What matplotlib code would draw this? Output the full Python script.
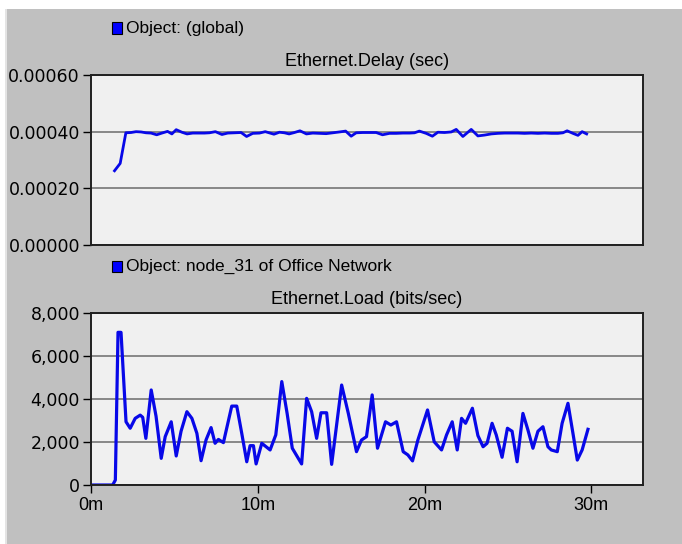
import matplotlib
matplotlib.use('Agg')
import matplotlib.pyplot as plt
from matplotlib.patches import Rectangle

# ---------------- data ----------------
delay_time = [1.41, 1.75, 2.09, 2.4, 2.7, 3.0, 3.3, 3.6, 3.94, 4.25, 4.59, 4.85, 5.11,
              5.45, 5.76, 6.1, 6.4, 6.8, 7.1, 7.46, 7.85, 8.2, 8.6, 9.0, 9.33, 9.7,
              10.1, 10.45, 10.97, 11.3, 11.6, 11.88, 12.2, 12.53, 12.92, 13.3, 13.7,
              14.1, 14.5, 14.9, 15.27, 15.6, 15.9, 16.3, 16.7, 17.1, 17.48, 17.9, 18.3,
              18.7, 19.1, 19.4, 19.69, 20.1, 20.47, 20.8, 21.2, 21.6, 21.9, 22.3, 22.8,
              23.2, 23.6, 24.0, 24.4, 24.8, 25.2, 25.6, 26.0, 26.4, 26.8, 27.2, 27.6,
              28.0, 28.3, 28.55, 28.9, 29.2, 29.45, 29.72]
delay_value = [0.000262, 0.000288, 0.000396, 0.000397, 0.000400, 0.000399, 0.000396,
               0.000395, 0.000389, 0.000395, 0.000401, 0.000392, 0.000407, 0.000398,
               0.000392, 0.000395, 0.000395, 0.000395, 0.000396, 0.000400, 0.000390,
               0.000395, 0.000396, 0.000397, 0.000383, 0.000394, 0.000395, 0.000400,
               0.000391, 0.000398, 0.000396, 0.000392, 0.000397, 0.000403, 0.000392,
               0.000395, 0.000394, 0.000393, 0.000396, 0.000399, 0.000402, 0.000384,
               0.000396, 0.000397, 0.000397, 0.000397, 0.000389, 0.000394, 0.000394,
               0.000395, 0.000395, 0.000396, 0.000402, 0.000394, 0.000384, 0.000398,
               0.000397, 0.000399, 0.000408, 0.000383, 0.000408, 0.000385, 0.000388,
               0.000392, 0.000394, 0.000395, 0.000395, 0.000395, 0.000394, 0.000395,
               0.000394, 0.000395, 0.000394, 0.000394, 0.000396, 0.000403, 0.000394,
               0.000387, 0.000400, 0.000392]

load_time = [0.0, 0.5, 1.0, 1.3, 1.46, 1.62, 1.8, 2.1, 2.35, 2.65, 2.95, 3.1, 3.29,
             3.61, 3.9, 4.21, 4.45, 4.81, 5.11, 5.4, 5.75, 6.05, 6.35, 6.6, 6.9, 7.2,
             7.44, 7.64, 7.94, 8.44, 8.74, 9.04, 9.34, 9.54, 9.74, 9.9, 10.24, 10.74,
             11.08, 11.44, 11.76, 12.07, 12.63, 12.93, 13.23, 13.53, 13.79, 14.13,
             14.43, 15.03, 15.43, 15.92, 16.22, 16.52, 16.86, 17.18, 17.66, 17.98,
             18.32, 18.72, 19.0, 19.28, 19.6, 20.18, 20.58, 21.02, 21.32, 21.66,
             21.96, 22.22, 22.46, 22.87, 23.2, 23.51, 23.75, 24.05, 24.3, 24.65,
             24.97, 25.25, 25.55, 25.9, 26.2, 26.5, 26.8, 27.1, 27.4, 27.6, 27.96,
             28.25, 28.6, 28.9, 29.16, 29.45, 29.8]
load_value = [0, 0, 0, 0, 230, 7100, 7100, 2940, 2640, 3100, 3250, 3150, 2170,
              4420, 3200, 1240, 2250, 2940, 1350, 2500, 3410, 3100, 2400, 1130, 2100,
              2670, 1940, 2120, 1970, 3670, 3670, 2400, 1080, 1830, 1830, 980, 1940,
              1630, 2330, 4810, 3330, 1710, 980, 4030, 3410, 2170, 3360, 3360, 960,
              4650, 3330, 1550, 2090, 2250, 4190, 1710, 2940, 2790, 2940, 1550, 1400,
              1120, 2090, 3490, 2010, 1630, 2330, 2940, 1630, 3100, 2870, 3570, 2300,
              1780, 1940, 2870, 2330, 1290, 2640, 2500, 1080, 3330, 2560, 1710, 2500,
              2710, 1780, 1630, 1550, 2870, 3800, 2400, 1160, 1630, 2590]

delay_ticks = [0.0, 0.0002, 0.0004, 0.0006]
delay_tick_labels = ["0.00000", "0.00020", "0.00040", "0.00060"]
load_ticks = [0, 2000, 4000, 6000, 8000]
load_tick_labels = ["0", "2,000", "4,000", "6,000", "8,000"]
time_ticks = [0, 10, 20, 30]
time_tick_labels = ["0m", "10m", "20m", "30m"]
x_max = 33.1

legend1 = "Object: (global)"
legend2 = "Object: node_31 of Office Network"
title1 = "Ethernet.Delay (sec)"
title2 = "Ethernet.Load (bits/sec)"

# ---------------- layout ----------------
W, H = 682, 544
fig = plt.figure(figsize=(W / 100, H / 100), dpi=100, facecolor='white')


def fx(px):
    return px / W


def fy(py):
    return 1 - py / H


# gray panel
fig.patches.append(Rectangle((fx(5), 0), 1 - fx(5), fy(9), transform=fig.transFigure,
                             facecolor='#c0c0c0', edgecolor='none', zorder=-10))
fig.patches.append(Rectangle((fx(5), 0), fx(1.5), fy(9), transform=fig.transFigure,
                             facecolor='#e4e4e4', edgecolor='none', zorder=-9))

TXT = 'Liberation Sans'
NUM = 'DejaVu Sans'
LINE_COLOR = '#0808e8'


def style_axes(ax, yticks, ylabels, ylim, show_x):
    ax.set_facecolor('#f0f0f0')
    ax.set_xlim(0, x_max)
    ax.set_ylim(*ylim)
    ax.set_yticks(yticks)
    ax.set_yticklabels(ylabels, fontfamily=NUM, fontsize=12.5)
    if show_x:
        ax.set_xticks(time_ticks)
        ax.set_xticklabels(time_tick_labels, fontfamily=TXT, fontsize=13)
    else:
        ax.set_xticks([])
    ax.tick_params(axis='y', direction='out', length=6, width=1.0, pad=2, colors='black')
    ax.tick_params(axis='x', direction='out', length=6, width=1.0, pad=3, colors='black')
    ax.yaxis.grid(True, color='#808080', linewidth=1.3)
    ax.set_axisbelow(True)
    for s in ax.spines.values():
        s.set_color('#202020')
        s.set_linewidth(1.4)


ax1 = fig.add_axes([fx(91), fy(245), fx(552), 170 / H])
style_axes(ax1, delay_ticks, delay_tick_labels, (0, 0.0006), False)
ax1.plot(delay_time, delay_value, color=LINE_COLOR, linewidth=2.0, solid_joinstyle='round')

ax2 = fig.add_axes([fx(91), fy(485), fx(552), 172 / H])
style_axes(ax2, load_ticks, load_tick_labels, (0, 8000), True)
ax2.plot(load_time, load_value, color=LINE_COLOR, linewidth=2.3, solid_joinstyle='round')


def legend(py, text):
    fig.patches.append(Rectangle((fx(111.5), fy(py + 5.5)), fx(10.5), 11 / H,
                                 transform=fig.transFigure,
                                 facecolor='#0000ff', edgecolor='black', linewidth=0.8))
    fig.text(fx(126), fy(py), text, ha='left', va='center', fontfamily=TXT, fontsize=12.5)


legend(28, legend1)
legend(266, legend2)
fig.text(fx(367), fy(61), title1, ha='center', va='center', fontfamily=TXT, fontsize=13)
fig.text(fx(367), fy(299), title2, ha='center', va='center', fontfamily=TXT, fontsize=13)

fig.savefig('out.png', dpi=100, facecolor='white')
